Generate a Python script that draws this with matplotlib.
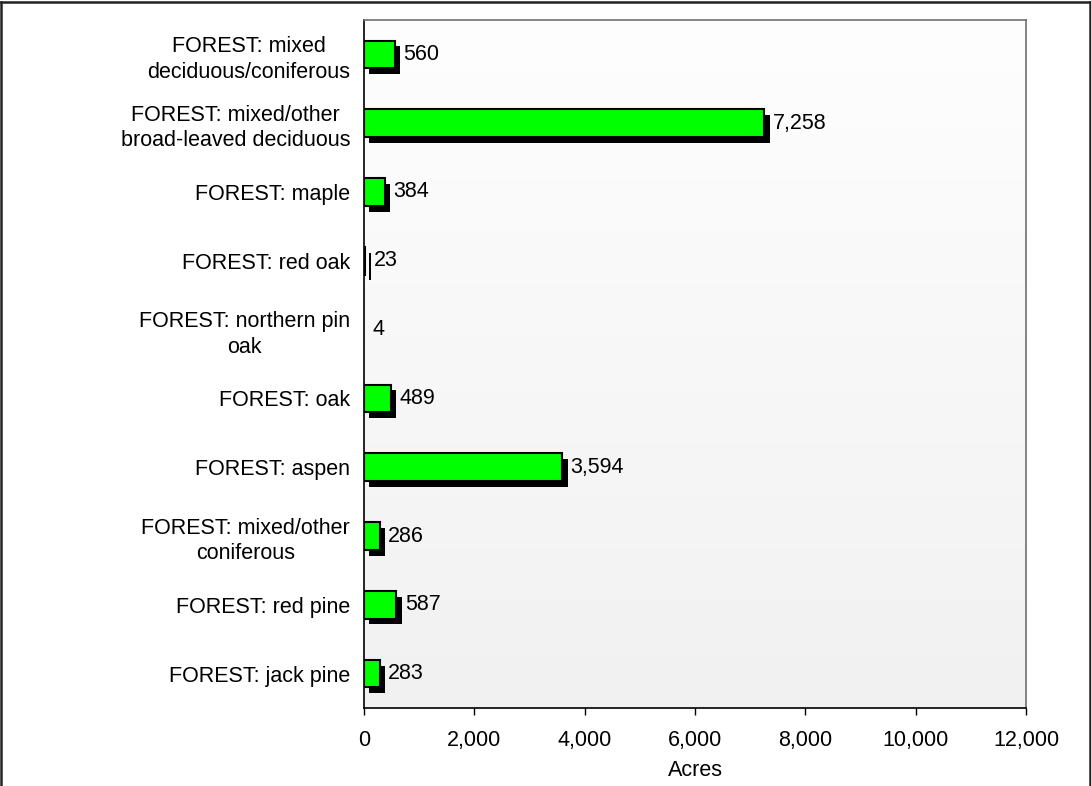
import matplotlib
matplotlib.use("Agg")
import matplotlib.pyplot as plt
import matplotlib.patheffects as pe
from matplotlib.ticker import FuncFormatter
from matplotlib.lines import Line2D
from matplotlib.colors import LinearSegmentedColormap
import numpy as np

categories = [
    "FOREST: mixed\ndeciduous/coniferous",
    "FOREST: mixed/other\nbroad-leaved deciduous",
    "FOREST: maple",
    "FOREST: red oak",
    "FOREST: northern pin\noak",
    "FOREST: oak",
    "FOREST: aspen",
    "FOREST: mixed/other\nconiferous",
    "FOREST: red pine",
    "FOREST: jack pine",
]
values = [560, 7258, 384, 23, 4, 489, 3594, 286, 587, 283]
xticks = [0, 2000, 4000, 6000, 8000, 10000, 12000]

plt.rcParams['font.family'] = ['Liberation Sans', 'DejaVu Sans']
FS = 15.5

fig = plt.figure(figsize=(10.91, 7.86), dpi=100)
ax = fig.add_axes([364/1091, 1 - 708/786, (1026-364)/1091, (708-20)/786])

# gradient background
grad = np.linspace(0, 1, 256).reshape(-1, 1)
cmap = LinearSegmentedColormap.from_list("bg", ["#fefefe", "#f1f1f1"])
ax.imshow(grad, extent=[0, 1, 0, 1], transform=ax.transAxes, aspect='auto',
          cmap=cmap, zorder=0, interpolation='bilinear')

y = np.arange(len(categories))
lws = [1.5 if v > 10 else 0 for v in values]
bars = ax.barh(y, values, height=0.4, color="#00ff00", edgecolor="black",
               linewidth=lws, zorder=3)
for b, v in zip(bars, values):
    if v > 10:
        b.set_path_effects([pe.SimplePatchShadow(offset=(3.8, -4.2), shadow_rgbFace='black', alpha=1.0),
                            pe.Normal()])
    ax.annotate(f"{v:,}", xy=(v, b.get_y() + b.get_height() / 2), xytext=(6, 0),
                textcoords='offset points', va='center', ha='left', fontsize=FS, zorder=5)

ax.set_ylim(len(categories) - 0.5, -0.5)
ax.set_xlim(0, 12000)
ax.set_yticks(y)
ax.set_yticklabels(categories, fontsize=FS, ha='right', multialignment='center', linespacing=1.3)
ax.tick_params(axis='y', length=0, pad=10)
ax.set_xticks(xticks)
ax.xaxis.set_major_formatter(FuncFormatter(lambda v, p: f"{int(v):,}"))
ax.tick_params(axis='x', length=5, width=1, labelsize=FS, pad=11, direction='out')
ax.set_xlabel("Acres", fontsize=FS, labelpad=6)

for s in ['left', 'bottom']:
    ax.spines[s].set_color('black')
    ax.spines[s].set_linewidth(1.2)
for s in ['top', 'right']:
    ax.spines[s].set_color('#707070')
    ax.spines[s].set_linewidth(1.2)

# figure border (top, left, right)
tr = fig.transFigure
for xs, ys in [([1/1091, 1/1091], [0, 1 - 2/786]),
               ([1/1091, 1 - 1.5/1091], [1 - 2/786, 1 - 2/786]),
               ([1 - 1.5/1091, 1 - 1.5/1091], [1 - 2/786, 0])]:
    fig.lines.append(Line2D(xs, ys, transform=tr, color='#222222', linewidth=1.8))

fig.savefig("out.png", dpi=100)
